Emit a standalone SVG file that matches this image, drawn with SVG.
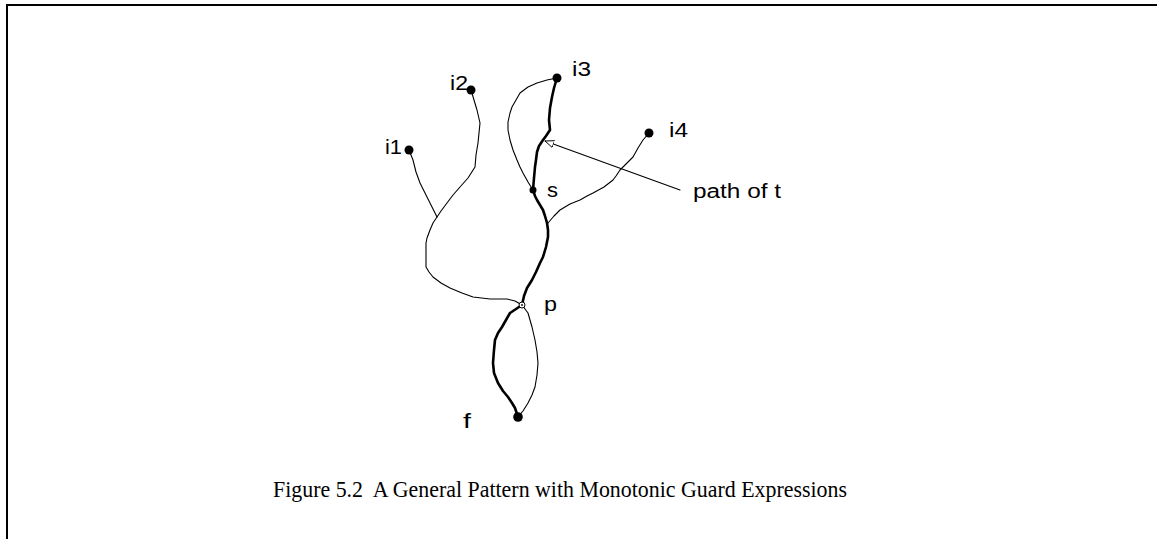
<svg xmlns="http://www.w3.org/2000/svg" width="1157" height="539" viewBox="0 0 1157 539">
<style>
.thin{fill:none;stroke:#000;stroke-width:1.1;stroke-linejoin:round;stroke-linecap:round}
.thick{fill:none;stroke:#000;stroke-width:2.6;stroke-linejoin:round;stroke-linecap:round}
.lbl{font-family:"Liberation Sans",Arial,sans-serif;font-size:20px;fill:#000}
.cap{font-family:"Liberation Serif","Times New Roman",serif;font-size:22.5px;fill:#000}
.dot{fill:#000}
</style>
<defs>
<marker id="hollow" viewBox="0 0 10 10" refX="10" refY="5" markerWidth="9" markerHeight="9" markerUnits="userSpaceOnUse" orient="auto">
<path d="M0,1 L10,5 L0,9 Z" fill="#fff" stroke="#000" stroke-width="1"/>
</marker>
</defs>
<rect width="1157" height="539" fill="#fff"/>
<g id="frame">
<line x1="6" y1="5" x2="1157" y2="5" stroke="#000" stroke-width="2"/>
<line x1="7" y1="4" x2="7" y2="539" stroke="#000" stroke-width="2"/>
</g>
<g id="connectors">
<polyline class="thick" points="557,78 554,88 552,97 550,108 549,120 550,130 546,136 543,140 539,146 537,152 536,160 535,167 534,178 533,190 535,196 537,200 540,205 543,210 545,216 547,223 548,230 548,237 546,247 543,257 540,263 536,272 532,280 527,288 524,296 522,305 516,309 510,313 506,320 502,327 498,333 495,340 494,350 493,363 494,373 498,383 503,391 508,397 512,403 515,408 518,417"/>
<polyline class="thin" points="409,150 413,160 416,172 420,183 425,193 430,203 437,217"/>
<polyline class="thin" points="471,90 477,110 480,123 479,133 478,143 476,155 475,167 468,178 460,187 453,195 447,203 441,211 437,217 433,223 430,230 427,238 426,243 426,255 426,267 429,272 433,277 441,283 450,288 462,293 473,297 490,299 507,299 515,301 522,305"/>
<polyline class="thin" points="557,78 547,80 537,83 528,87 520,93 516,100 512,107 510,113 508,122 508,130 510,140 513,150 517,160 520,167 523,173 528,182 533,190"/>
<polyline class="thin" points="649,133 643,140 638,148 633,157 626,164 620,170 616,176 613,180 604,187 593,193 587,196 580,200 570,204 560,210 554,216 548,223"/>
<polyline class="thin" points="522,305 528,313 532,327 535,340 537,352 538,363 537,375 535,387 532,395 528,403 523,411 518,417"/>
<line class="thin" x1="680" y1="190" x2="545" y2="141" marker-end="url(#hollow)"/>
</g>
<g id="i1"><circle class="dot" cx="409" cy="150" r="4.5"/><text class="lbl" x="385" y="154" textLength="17" lengthAdjust="spacingAndGlyphs">i1</text></g>
<g id="i2"><circle class="dot" cx="471" cy="90" r="4.5"/><text class="lbl" x="450" y="90" textLength="18" lengthAdjust="spacingAndGlyphs">i2</text></g>
<g id="i3"><circle class="dot" cx="557" cy="78" r="4.5"/><text class="lbl" x="572" y="76" textLength="19" lengthAdjust="spacingAndGlyphs">i3</text></g>
<g id="i4"><circle class="dot" cx="649" cy="133" r="4.5"/><text class="lbl" x="669" y="137" textLength="19" lengthAdjust="spacingAndGlyphs">i4</text></g>
<g id="s"><circle class="dot" cx="533" cy="190" r="3.5"/><text class="lbl" x="547" y="197" textLength="11" lengthAdjust="spacingAndGlyphs">s</text></g>
<g id="p"><circle cx="522" cy="305" r="3" fill="#fff" stroke="#000" stroke-width="1"/><circle class="dot" cx="522" cy="305" r="0.9"/><text class="lbl" x="544" y="311" textLength="13" lengthAdjust="spacingAndGlyphs">p</text></g>
<g id="f"><circle class="dot" cx="518" cy="417" r="4.8"/><text class="lbl" x="463" y="428" textLength="8" lengthAdjust="spacingAndGlyphs">f</text></g>
<g id="label-path"><text class="lbl" x="693" y="198" textLength="88" lengthAdjust="spacingAndGlyphs">path of t</text></g>
<g id="caption"><text class="cap" x="273" y="497" textLength="574" lengthAdjust="spacingAndGlyphs" xml:space="preserve">Figure 5.2  A General Pattern with Monotonic Guard Expressions</text></g>
</svg>
